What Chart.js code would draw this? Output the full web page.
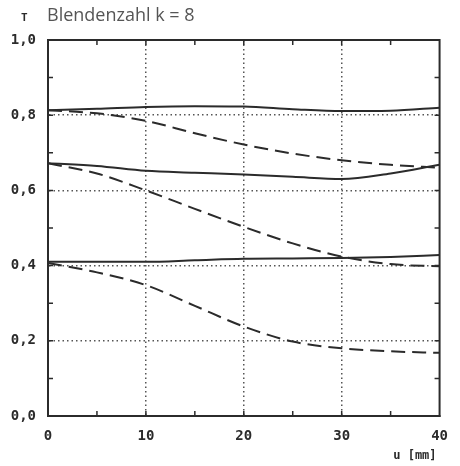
<!DOCTYPE html>
<html>
<head>
<meta charset="utf-8">
<script src="https://cdn.jsdelivr.net/npm/chart.js@4.4.1/dist/chart.umd.min.js"></script>
<style>
  html, body { margin: 0; padding: 0; background: #fff; }
  canvas { display: block; }
</style>
</head>
<body>
<canvas id="chart" width="460" height="466"></canvas>
<script>
// u in mm
const uValues = [0, 5, 10, 15, 20, 25, 30, 35, 40];

// solid = one curve type, dashed = the other
const solidTop    = [0.813, 0.817, 0.822, 0.824, 0.823, 0.816, 0.811, 0.812, 0.820];
const dashedTop   = [0.813, 0.805, 0.785, 0.752, 0.722, 0.698, 0.680, 0.668, 0.660];
const solidMid    = [0.672, 0.665, 0.652, 0.647, 0.642, 0.636, 0.630, 0.645, 0.668];
const dashedMid   = [0.672, 0.645, 0.600, 0.551, 0.503, 0.459, 0.424, 0.404, 0.398];
const solidLow    = [0.410, 0.410, 0.410, 0.414, 0.418, 0.419, 0.420, 0.423, 0.428];
const dashedLow   = [0.407, 0.382, 0.348, 0.293, 0.238, 0.198, 0.180, 0.172, 0.168];

const xTicks = [0, 10, 20, 30, 40];
const yTicks = ['0,0', '0,2', '0,4', '0,6', '0,8', '1,0'];

const ink = '#2b2b2b';
const labelFont = { family: 'DejaVu Sans Mono', size: 14, weight: 'bold' };

const toPoints = (ys) => ys.map((y, i) => ({ x: uValues[i], y: y }));

const line = (ys, dashed) => ({
  data: toPoints(ys),
  borderColor: ink,
  borderWidth: 2,
  borderDash: dashed ? [14, 7] : [],
  pointRadius: 0,
  fill: false,
  cubicInterpolationMode: 'monotone'
});

const frame = {
  id: 'frame',
  afterDraw(chart) {
    const { ctx, chartArea: a, scales } = chart;
    ctx.save();
    ctx.strokeStyle = ink;
    ctx.lineWidth = 1.5;
    ctx.beginPath();
    for (let v = 5; v < 40; v += 5) {
      const px = scales.x.getPixelForValue(v);
      ctx.moveTo(px, a.bottom); ctx.lineTo(px, a.bottom - 5);
      ctx.moveTo(px, a.top); ctx.lineTo(px, a.top + 5);
    }
    for (let v = 1; v < 10; v++) {
      const py = scales.y.getPixelForValue(v / 10);
      ctx.moveTo(a.left, py); ctx.lineTo(a.left + 5, py);
      ctx.moveTo(a.right, py); ctx.lineTo(a.right - 5, py);
    }
    ctx.stroke();

    ctx.lineWidth = 2;
    ctx.strokeRect(a.left, a.top, a.right - a.left, a.bottom - a.top);

    ctx.fillStyle = ink;
    ctx.font = 'bold 12px "DejaVu Sans Mono"';
    ctx.textAlign = 'right';
    ctx.textBaseline = 'middle';
    ctx.fillText('u [mm]', a.right - 3, 456);

    ctx.textAlign = 'left';
    ctx.font = 'bold 11px "DejaVu Sans Mono"';
    ctx.fillText('T', 21, 18);
    ctx.fillStyle = '#555';
    ctx.font = '18px "Open Sans"';
    ctx.fillText('Blendenzahl k = 8', 47, 16);
    ctx.restore();
  }
};

new Chart(document.getElementById('chart'), {
  type: 'line',
  data: {
    datasets: [
      line(solidTop, false),
      line(dashedTop, true),
      line(solidMid, false),
      line(dashedMid, true),
      line(solidLow, false),
      line(dashedLow, true)
    ]
  },
  options: {
    responsive: false,
    animation: false,
    layout: { padding: { top: 40, right: 13, left: 0, bottom: 0 }, autoPadding: false },
    plugins: { legend: { display: false }, tooltip: { enabled: false } },
    scales: {
      x: {
        type: 'linear',
        min: 0,
        max: 40,
        afterFit: (s) => { s.height = 50; },
        afterBuildTicks: (s) => { s.ticks = xTicks.map((v) => ({ value: v })); },
        ticks: { color: ink, font: labelFont, padding: 12, maxRotation: 0, autoSkip: false },
        grid: {
          drawTicks: false,
          lineWidth: 1.5,
          color: (c) => (c.tick && c.tick.value > 0 && c.tick.value < 40 ? '#555' : 'transparent')
        },
        border: { color: ink, width: 2, dash: (c) => (c.type === 'tick' ? [1.5, 3] : []) }
      },
      y: {
        min: 0,
        max: 1,
        afterFit: (s) => { s.width = 48; },
        afterBuildTicks: (s) => { s.ticks = yTicks.map((t, i) => ({ value: i * 0.2 })); },
        ticks: {
          color: ink,
          font: labelFont,
          padding: 12,
          autoSkip: false,
          callback: (v, i) => yTicks[i]
        },
        grid: {
          drawTicks: false,
          lineWidth: 1.5,
          color: (c) => (c.tick && c.index > 0 && c.index < yTicks.length - 1 ? '#555' : 'transparent')
        },
        border: { color: ink, width: 2, dash: (c) => (c.type === 'tick' ? [1.5, 3] : []) }
      }
    }
  },
  plugins: [frame]
});
</script>
</body>
</html>
